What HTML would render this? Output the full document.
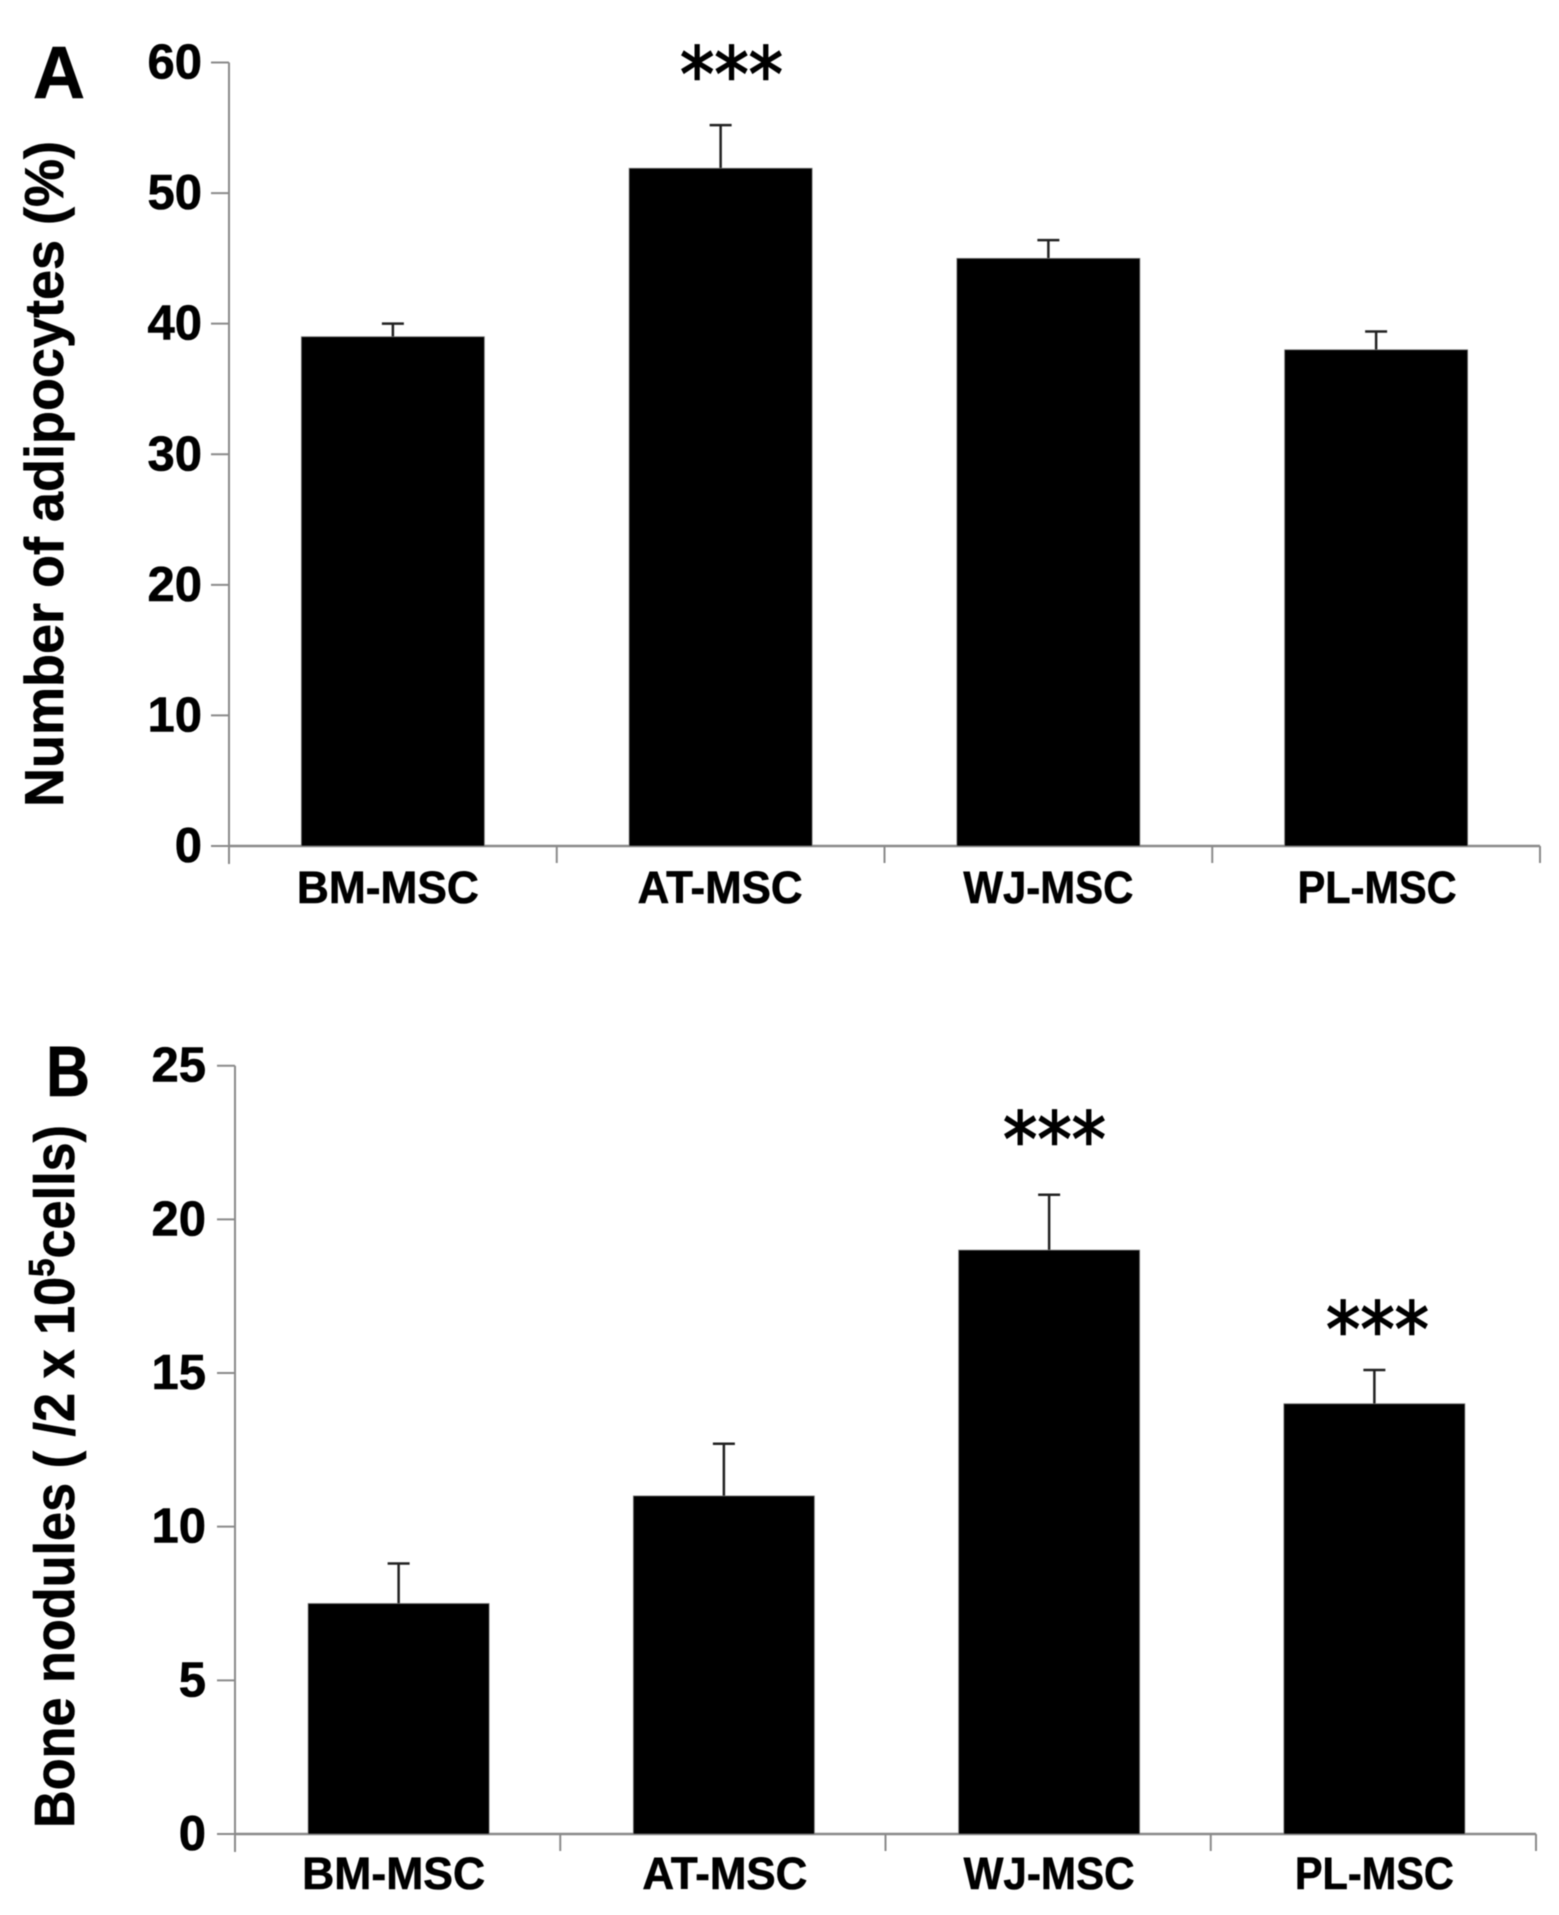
<!DOCTYPE html>
<html lang="en">
<head>
<meta charset="utf-8">
<title>Adipocytes and bone nodules by MSC source</title>
<style>
html,body{margin:0;padding:0;background:#fff;}
body{width:1559px;height:1915px;overflow:hidden;}
svg{display:block;filter:blur(0.5px);}
text{font-family:"Liberation Sans",sans-serif;font-weight:700;fill:#000;stroke:#000;stroke-width:0.6px;}
.star{font-family:"DejaVu Sans",sans-serif;font-weight:400;font-size:76px;stroke-width:1.6px;}
</style>
</head>
<body>
<svg id="figure" xmlns="http://www.w3.org/2000/svg" width="1559" height="1915" viewBox="0 0 1559 1915">
  <rect x="0" y="0" width="1559" height="1915" fill="#fff"/>
  <text x="33" y="98" font-size="74" textLength="52" lengthAdjust="spacingAndGlyphs">A</text>
  <text x="46" y="1096" font-size="71" textLength="44" lengthAdjust="spacingAndGlyphs">B</text>
  <text transform="translate(63,807) rotate(-90)" font-size="55" textLength="666" lengthAdjust="spacingAndGlyphs">Number of adipocytes (%)</text>
  <text transform="translate(74,1828) rotate(-90)" font-size="57" textLength="703" lengthAdjust="spacingAndGlyphs">Bone nodules ( /2 x 10<tspan font-size="36" dy="-20">5</tspan><tspan dy="20">cells)</tspan></text>
  <text class="star" x="680" y="101" textLength="103" lengthAdjust="spacingAndGlyphs">***</text>
  <text class="star" x="1003" y="1166" textLength="103" lengthAdjust="spacingAndGlyphs">***</text>
  <text class="star" x="1326" y="1356" textLength="103" lengthAdjust="spacingAndGlyphs">***</text>
  <g id="chart-a"></g>
  <g id="chart-b"></g>
</svg>
<script>
var categories = ['BM-MSC', 'AT-MSC', 'WJ-MSC', 'PL-MSC'];
var adipocyteValues = [39, 51.9, 45, 38];
var adipocyteErrorTops = [40, 55.2, 46.4, 39.4];
var adipocyteTicks = [0, 10, 20, 30, 40, 50, 60];
var noduleValues = [7.5, 11, 19, 14];
var noduleErrorTops = [8.8, 12.7, 20.8, 15.1];
var noduleTicks = [0, 5, 10, 15, 20, 25];

var SVG_NS = 'http://www.w3.org/2000/svg';
var AXIS_GREY = '#8a8a8a';

function make(tag, attrs, parent, content) {
  var node = document.createElementNS(SVG_NS, tag);
  for (var key in attrs) { node.setAttribute(key, attrs[key]); }
  if (content !== undefined) { node.textContent = content; }
  parent.appendChild(node);
  return node;
}

function drawChart(rootId, values, errorTops, ticks, layout) {
  var root = document.getElementById(rootId);
  var maxTick = ticks[ticks.length - 1];
  var yScale = function (v) {
    return layout.bottom - (v / maxTick) * (layout.bottom - layout.top);
  };
  var band = (layout.right - layout.left) / categories.length;
  var xCenter = function (i) {
    return layout.left + band * (i + 0.5);
  };
  var el;

  ticks.forEach(function (t) {
    el = make('line', {x1: layout.left - 18, x2: layout.left, y1: yScale(t), y2: yScale(t), stroke: AXIS_GREY, 'stroke-width': 2}, root);
    
    
    el = make('text', {x: layout.labelRight, y: yScale(t) + 16, 'font-size': 49, 'text-anchor': 'end'}, root, String(t));
    
    
  });

  el = make('line', {x1: layout.left, x2: layout.left, y1: yScale(maxTick), y2: layout.bottom + 18, stroke: AXIS_GREY, 'stroke-width': 2}, root);
  
  

  el = make('line', {x1: layout.left, x2: layout.right, y1: layout.bottom, y2: layout.bottom, stroke: AXIS_GREY, 'stroke-width': 2.5}, root);
  
  

  for (var k = 1; k <= categories.length; k++) {
    el = make('line', {x1: layout.left + band * k, x2: layout.left + band * k, y1: layout.bottom, y2: layout.bottom + 17, stroke: AXIS_GREY, 'stroke-width': 2}, root);
    
    
  }

  categories.forEach(function (name, i) {
    var cx = xCenter(i) + layout.barShift;
    var slug = name.toLowerCase();

    el = make('line', {x1: cx, x2: cx, y1: yScale(errorTops[i]), y2: yScale(values[i]), stroke: '#222', 'stroke-width': 2.5}, root);
    
    

    el = make('line', {x1: cx - 11, x2: cx + 11, y1: yScale(errorTops[i]), y2: yScale(errorTops[i]), stroke: '#222', 'stroke-width': 2.5}, root);
    
    

    el = make('rect', {x: cx - layout.barWidth / 2, y: yScale(values[i]), width: layout.barWidth, height: layout.bottom - yScale(values[i]), fill: '#000', stroke: '#777', 'stroke-width': 0.8}, root);
    
    

    el = make('text', {x: xCenter(i) + layout.labelNudges[i], y: layout.labelBaseline, 'font-size': 45, 'text-anchor': 'middle', textLength: layout.labelWidths[i], lengthAdjust: 'spacingAndGlyphs'}, root, name);
    
    
  });
}

drawChart('chart-a', adipocyteValues, adipocyteErrorTops, adipocyteTicks, {
  left: 229, right: 1540, top: 62.5, bottom: 846, barWidth: 183, barShift: 0,
  labelRight: 202, labelBaseline: 903, labelWidths: [182, 165, 170, 159], labelNudges: [-5, -0.5, 0, 1]
});
drawChart('chart-b', noduleValues, noduleErrorTops, noduleTicks, {
  left: 235, right: 1536, top: 1065.7, bottom: 1834, barWidth: 181, barShift: 1,
  labelRight: 206, labelBaseline: 1889, labelWidths: [183, 165, 171, 159], labelNudges: [-4, 2, 1, 1]
});
</script>
</body>
</html>
